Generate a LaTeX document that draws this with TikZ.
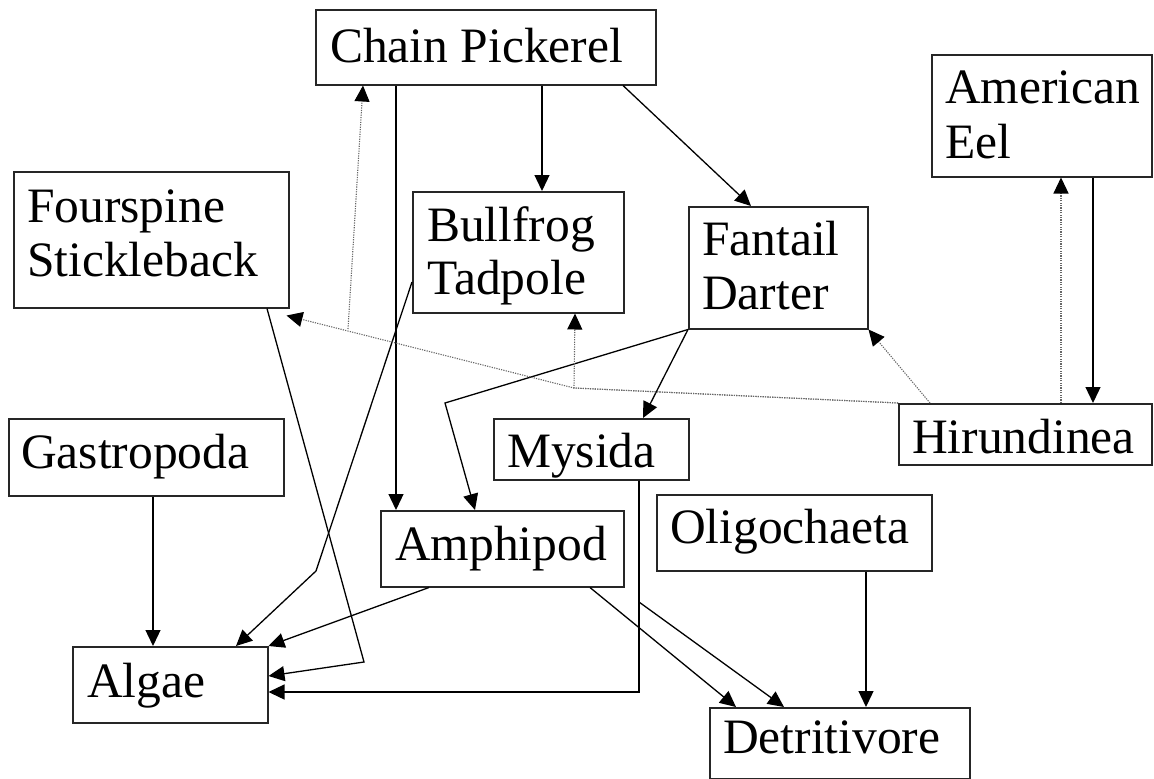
\documentclass[tikz,border=0pt]{standalone}
\usepackage{fontspec}
\setmainfont{Liberation Serif}
\usetikzlibrary{arrows.meta}
\begin{document}
\begin{tikzpicture}[x=1pt,y=-1pt,
  box/.style={draw=black!85, line width=1.5pt, inner sep=0pt, anchor=north west},
  lbl/.style={font=\fontsize{49.5}{54}\selectfont, inner sep=0pt, anchor=base west},
  tip/.style={-{Triangle[length=16pt,width=15pt,color=black]}},
  arr/.style={tip, line width=1.3pt, draw=black},
  dot/.style={tip, line width=1.1pt, draw=black!60, dash pattern=on 1.2pt off 1.2pt}]
\useasboundingbox (0,0) rectangle (1154,779);

% species boxes
\node[box, minimum width=340pt, minimum height=75pt]  (cp) at (315,9)   {};
\node[box, minimum width=275pt, minimum height=136pt] (fs) at (13,171)  {};
\node[box, minimum width=211pt, minimum height=121pt] (bt) at (412,191) {};
\node[box, minimum width=179pt, minimum height=122pt] (fd) at (688,206) {};
\node[box, minimum width=220pt, minimum height=122pt] (ae) at (931,54)  {};
\node[box, minimum width=253pt, minimum height=61pt]  (hi) at (898,403) {};
\node[box, minimum width=275pt, minimum height=77pt]  (ga) at (8,418)   {};
\node[box, minimum width=195pt, minimum height=61pt]  (my) at (493,418) {};
\node[box, minimum width=243pt, minimum height=76pt]  (am) at (380,510) {};
\node[box, minimum width=275pt, minimum height=76pt]  (ol) at (656,494) {};
\node[box, minimum width=195pt, minimum height=76pt]  (al) at (72,646)  {};
\node[box, minimum width=260pt, minimum height=71pt]  (de) at (709,707) {};

% names
\node[lbl] (cp-t)  at (330,62)  {Chain Pickerel};
\node[lbl] (fs-t1) at (27,222)  {Fourspine};
\node[lbl] (fs-t2) at (27,276)  {Stickleback};
\node[lbl] (bt-t1) at (427,241) {Bullfrog};
\node[lbl] (bt-t2) at (427,294) {Tadpole};
\node[lbl] (fd-t1) at (702,255) {Fantail};
\node[lbl] (fd-t2) at (702,309) {Darter};
\node[lbl] (ae-t1) at (945,103) {American};
\node[lbl] (ae-t2) at (945,158) {Eel};
\node[lbl] (hi-t)  at (912,453) {Hirundinea};
\node[lbl] (ga-t)  at (21,468)  {Gastropoda};
\node[lbl] (my-t)  at (507,467) {Mysida};
\node[lbl] (am-t)  at (395,560) {Amphipod};
\node[lbl] (ol-t)  at (670,543) {Oligochaeta};
\node[lbl] (al-t)  at (87,697)  {Algae};
\node[lbl] (de-t)  at (723,753) {Detritivore};

% bend points
\coordinate (fdam) at (445,403);
\coordinate (btal) at (316,571);
\coordinate (fsal) at (364,662);
\coordinate (myal) at (639,692);
\coordinate (myde) at (639,602);
\coordinate (hibt) at (574,388);
\coordinate (hicp) at (348,329);

% feeding links
\draw[arr] (396,0 |- cp.south) -- (396,0 |- am.north);
\draw[arr] (542,0 |- cp.south) -- (542,0 |- bt.north);
\draw[arr] (623,0 |- cp.south) -- (751,0 |- fd.north);
\draw[arr] (fd.south west) -- (fdam) -- (475,0 |- am.north);
\draw[arr] (fd.south west) -- (643,0 |- my.north);
\draw[arr] (bt.west |- 0,282) -- (btal) -- (236,0 |- al.north);
\draw[arr] (267,0 |- fs.south) -- (fsal) -- (al.east |- 0,676);
\draw[arr] (153,0 |- ga.south) -- (153,0 |- al.north);
\draw[arr] (429,0 |- am.south) -- (al.north east);
\draw[arr] (639,0 |- my.south) -- (myal) -- (al.east |- myal);
\draw[arr] (639,0 |- my.south) -- (myde) -- (784,0 |- de.north);
\draw[arr] (590,0 |- am.south) -- (736,0 |- de.north);
\draw[arr] (866,0 |- ol.south) -- (866,0 |- de.north);
\draw[arr] (1093,0 |- ae.south) -- (1093,0 |- hi.north);

% dotted links from Hirundinea
\draw[dot] (1061,0 |- hi.north) -- (1061,0 |- ae.south);
\draw[dot] (930,0 |- hi.north) -- (fd.south east);
\draw[dot] (hi.north west) -- (hibt) -- (575,0 |- bt.south);
\draw[dot] (hi.north west) -- (hibt) -- ([xshift=-3pt,yshift=-7pt]fs.south east);
\draw[dot] (hicp) -- (363,0 |- cp.south);
\end{tikzpicture}
\end{document}
